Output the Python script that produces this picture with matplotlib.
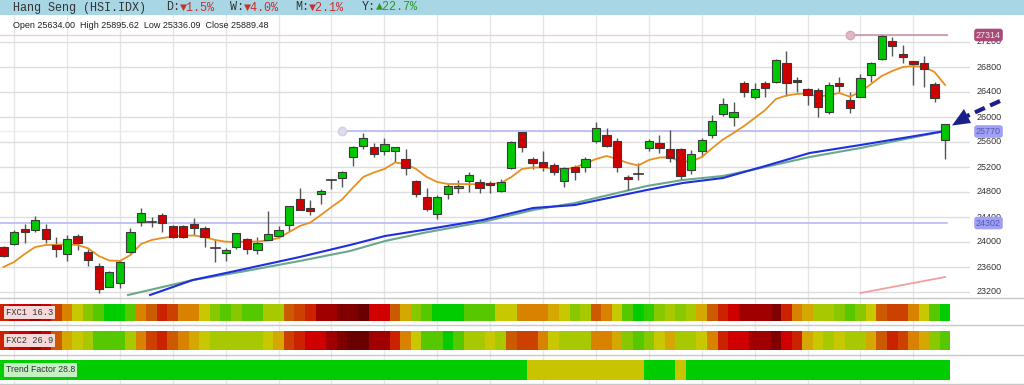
import matplotlib
matplotlib.use("Agg")
import matplotlib.pyplot as plt
from matplotlib.lines import Line2D
from matplotlib.patches import Rectangle, Polygon

# ---------------- data ----------------
opens = [23925, 23968, 24213, 24192, 24213, 23952, 23803, 24096, 23845, 23616,
         23285, 23339, 23835, 24325, 24325, 24432, 24256, 24256, 24288, 24229,
         23909, 23829, 23925, 24048, 23867, 24037, 24096, 24272, 24693, 24549,
         24763, 24987, 25029, 25355, 25536, 25525, 25464, 25456, 25328, 24976,
         24725, 24443, 24763, 24859, 24981, 24965, 24939, 24821, 25179, 25755,
         25323, 25285, 25232, 24976, 25205, 25195, 25621, 25707, 25621, 25035,
         25083, 25509, 25579, 25488, 25483, 25152, 25456, 25707, 26048, 25995,
         26539, 26315, 26539, 26555, 26859, 26587, 26448, 26432, 26085, 26539,
         26272, 26325, 26672, 26928, 27221, 27003, 26901, 26869, 26528, 25634]
highs = [23941, 24192, 24288, 24421, 24288, 24085, 24112, 24123, 23888, 23659,
         23541, 23712, 24219, 24539, 24405, 24459, 24272, 24272, 24379, 24256,
         24043, 23899, 24149, 24069, 24085, 24496, 24256, 24576, 24869, 24672,
         24843, 25003, 25141, 25536, 25739, 25589, 25659, 25525, 25483, 24992,
         24859, 24752, 24939, 24992, 25125, 25003, 24976, 25003, 25621, 25755,
         25355, 25461, 25259, 25205, 25232, 25355, 25925, 25819, 25659, 25072,
         25259, 25643, 25712, 25792, 25499, 25472, 25659, 26027, 26299, 26235,
         26581, 26539, 26581, 26923, 27061, 26645, 26469, 26459, 26560, 26645,
         26405, 26683, 26875, 27314, 27275, 27152, 26901, 26976, 26565, 25896]
lows = [23755, 23947, 23989, 24165, 23989, 23765, 23701, 23872, 23621, 23179,
        23275, 23259, 23819, 24261, 24245, 24165, 24059, 24059, 24112, 23915,
        23675, 23701, 23888, 23808, 23808, 24032, 24069, 24181, 24512, 24432,
        24608, 24843, 24885, 25216, 25483, 25355, 25392, 25285, 25072, 24725,
        24496, 24368, 24683, 24789, 24805, 24789, 24779, 24805, 25163, 25445,
        25163, 25141, 25072, 24875, 24992, 25125, 25579, 25515, 25125, 24832,
        24992, 25461, 25419, 25285, 25003, 25088, 25365, 25659, 26016, 25856,
        26325, 26283, 26325, 26539, 26336, 26405, 26192, 26005, 26048, 26405,
        26069, 26315, 26565, 26912, 26976, 26869, 26512, 26475, 26245, 25336]
closes = [23781, 24165, 24155, 24352, 24043, 23893, 24048, 23979, 23712, 23248,
          23515, 23685, 24165, 24469, 24320, 24299, 24075, 24075, 24229, 24085,
          23905, 23877, 24139, 23888, 23989, 24128, 24192, 24576, 24512, 24501,
          24821, 24990, 25125, 25525, 25659, 25403, 25563, 25515, 25179, 24768,
          24523, 24725, 24896, 24896, 25072, 24869, 24912, 24965, 25605, 25525,
          25269, 25195, 25125, 25179, 25115, 25333, 25829, 25536, 25205, 25003,
          25085, 25616, 25499, 25339, 25061, 25408, 25632, 25936, 26203, 26080,
          26395, 26443, 26459, 26912, 26549, 26560, 26352, 26165, 26507, 26496,
          26139, 26619, 26859, 27296, 27141, 26965, 26843, 26763, 26299, 25889]

# short moving average (orange), one value per candle
ma_short = [23600, 23680, 23808, 23920, 23952, 23955, 23963, 23952, 23899, 23776,
            23704, 23696, 23792, 23968, 24032, 24064, 24085, 24104, 24104, 24080,
            24032, 24005, 24000, 24005, 24008, 24024, 24064, 24160, 24256, 24312,
            24432, 24560, 24680, 24864, 25040, 25112, 25168, 25272, 25248, 25168,
            25040, 24960, 24928, 24928, 24925, 24923, 24928, 24944, 25040, 25168,
            25192, 25192, 25176, 25160, 25192, 25256, 25328, 25376, 25328, 25264,
            25224, 25312, 25352, 25355, 25288, 25288, 25360, 25504, 25640, 25744,
            25856, 25984, 26112, 26288, 26344, 26368, 26376, 26325, 26352, 26384,
            26325, 26400, 26528, 26656, 26736, 26800, 26816, 26800, 26720, 26512]

# long moving averages (read at knots)
ma_blue_idx = [13.85, 17.9, 22.35, 28.0, 32.75, 36.06, 39.65, 45.3, 50.05, 54.0,
               60.8, 64.2, 68.0, 72.0, 76.2, 81.0, 89.0]
ma_blue_val = [23152, 23392, 23552, 23760, 23952, 24096, 24192, 24352, 24544, 24592,
               24832, 24944, 25024, 25216, 25424, 25552, 25775]
ma_green_idx = [11.77, 17.9, 22.35, 28.0, 32.75, 36.06, 39.65, 45.3, 50.05, 54.0,
                60.8, 64.2, 68.0, 72.0, 76.2, 81.0, 89.0]
ma_green_val = [23152, 23392, 23520, 23696, 23856, 24016, 24144, 24320, 24512, 24624,
                24896, 24992, 25056, 25200, 25360, 25504, 25776]
pink_idx = [81.0, 89.0]
pink_val = [23184, 23440]

price_ticks = [23200, 23600, 24000, 24400, 24800, 25200, 25600, 26000, 26400, 26800, 27200]
levels_hline = {"high": 27314, "mid": 25770, "low": 24302}

fxc1 = [10, 11, 11, 12, 11, 9, 7, 5, 3, 2, 0, 0, 2, 7, 8, 10, 9, 7, 7, 5,
        3, 2, 3, 2, 2, 4, 4, 8, 9, 10, 12, 12, 13, 13, 14, 11, 11, 8, 6, 3,
        2, 0, 0, 0, 2, 2, 2, 5, 5, 7, 7, 7, 6, 5, 3, 4, 8, 7, 5, 2,
        0, 1, 3, 4, 3, 4, 6, 8, 10, 11, 12, 12, 12, 13, 10, 7, 6, 4, 4, 3,
        2, 3, 5, 8, 9, 9, 7, 5, 2, 0]
fxc2 = [10, 11, 11, 12, 11, 8, 6, 5, 4, 2, 2, 2, 4, 7, 9, 10, 8, 7, 6, 5,
        4, 4, 4, 4, 4, 5, 6, 9, 10, 11, 11, 12, 13, 14, 14, 12, 12, 10, 7, 5,
        2, 2, 0, 2, 4, 4, 5, 4, 8, 9, 9, 7, 5, 4, 4, 4, 7, 7, 6, 3,
        2, 3, 5, 6, 4, 4, 5, 7, 10, 11, 11, 12, 12, 13, 11, 10, 6, 5, 4, 5,
        4, 4, 6, 8, 10, 9, 7, 6, 3, 2]
trend = [0] * 50 + [1] * 11 + [0] * 3 + [1] + [0] * 25

palette = ['#00cc00', '#2ecc00', '#55c800', '#88c800', '#a8c800', '#c8c800', '#d4a800',
           '#d98200', '#cc5a00', '#cc4000', '#cc2200', '#d00000', '#a00000', '#800000', '#6a0000']
trend_colors = ['#00cc00', '#c8c400']

# ---------------- layout helpers ----------------
W, H = 1024, 385
fig = plt.figure(figsize=(W / 100, H / 100), dpi=100)
fig.patch.set_facecolor('white')


def fx(px):
    return px / W


def fy(py):
    return 1 - py / H


X0 = -3.5 / 10.58
X1 = (970 - 3.5) / 10.58
n = len(closes)
idx = list(range(n))

# title bar
fig.patches.append(Rectangle((0, fy(14.5)), 1, 14.5 / H, transform=fig.transFigure,
                             facecolor='#a9d6e5', edgecolor='none', zorder=0))
mono = ['Liberation Mono', 'DejaVu Sans Mono']
ty = fy(7.5)
fig.text(fx(13), ty, 'Hang Seng (HSI.IDX)', family=mono, size=8.5, color='#333333', va='center')
parts = [(166, 'D:', '▼1.5%', '#c83030'), (230, 'W:', '▼4.0%', '#c83030'),
         (295, 'M:', '▼2.1%', '#c83030'), (362, 'Y:', '▲22.7%', '#2a9a2a')]
for px, lab, val, col in parts:
    fig.text(fx(px), ty, lab, family=mono, size=8.5, color='#333333', va='center')
    fig.text(fx(px + 14.2), ty, val, family=mono, size=8.5, color=col, va='center')

fig.text(fx(13), fy(25), 'Open 25634.00  High 25895.62  Low 25336.09  Close 25889.48',
         family='Liberation Sans', size=6.45, color='#222222', va='center')

# ---------------- main price axes ----------------
ax = fig.add_axes([0, fy(297), fx(970), (297 - 15) / H])
ax.set_xlim(X0, X1)
ax.set_ylim(27872 - 16 * 297, 27872 - 16 * 15)
ax.set_facecolor('none')
for s in ax.spines.values():
    s.set_visible(False)
ax.set_xticks([])
ax.set_yticks([])
for g in range(1, 90, 5):
    ax.axvline(g, color='#e6e6e6', lw=1, zorder=0)
for p in price_ticks:
    ax.axhline(p, color='#dedede', lw=1, zorder=0)
    fig.text(fx(977), fy(42 + (27200 - p) / 16), str(p),
             family='Liberation Sans', size=6.5, color='#333333', va='center', ha='left')

# horizontal level lines
ax.plot([X0, 89.2], [levels_hline['high']] * 2, color='#f0d0d8', lw=1, zorder=1)
ax.plot([80.0, 89.2], [levels_hline['high']] * 2, color='#c898aa', lw=1.2, zorder=2)
ax.plot([80.0], [levels_hline['high']], 'o', ms=6, color='#e0b8c8', mec='#d0a8b8', zorder=3)
ax.plot([X0, 89.2], [levels_hline['mid']] * 2, color='#ececf4', lw=1, zorder=1)
ax.plot([32.0, 89.2], [levels_hline['mid']] * 2, color='#b8b8f4', lw=1.2, zorder=2)
ax.plot([32.0], [levels_hline['mid']], 'o', ms=6, color='#dcdcec', mec='#d0d0e0', zorder=3)
ax.plot([X0, 89.2], [levels_hline['low']] * 2, color='#b8b8f4', lw=1.2, zorder=2)

# moving averages
ax.plot(ma_green_idx, ma_green_val, color='#6aa88a', lw=1.5, zorder=4)
ax.plot(ma_blue_idx, ma_blue_val, color='#1f2fe0', lw=1.5, zorder=4)
ax.plot(pink_idx, pink_val, color='#f0a0a0', lw=1.3, zorder=4)
ax.plot(idx, ma_short, color='#e8901e', lw=1.3, zorder=6)

# candles
for i in idx:
    o, h, l, c = opens[i], highs[i], lows[i], closes[i]
    ax.plot([i, i], [l, h], color='#555555', lw=1, zorder=5, solid_capstyle='butt')
    if abs(c - o) < 12:
        ax.plot([i - 0.42, i + 0.42], [o, o], color='#333333', lw=1.2, zorder=7)
    else:
        col = '#00c800' if c > o else '#d00000'
        ax.bar(i, abs(c - o), bottom=min(o, c), width=0.78, color=col,
               edgecolor='#3a3a3a', linewidth=0.8, zorder=7)

# right-side level labels
fig.text(fx(976), fy(35), '27314', family='Liberation Sans', size=6.5, color='#f4e4ec',
         va='center', ha='left',
         bbox=dict(boxstyle='round,pad=0.2,rounding_size=0.3', fc='#a84a78', ec='none'))
fig.text(fx(976), fy(131.5), '25770', family='Liberation Sans', size=6.5, color='#5a5aa8',
         va='center', ha='left',
         bbox=dict(boxstyle='round,pad=0.2,rounding_size=0.3', fc='#a0a0f8', ec='none'))
fig.text(fx(976), fy(223), '24302', family='Liberation Sans', size=6.5, color='#5a5aa8',
         va='center', ha='left',
         bbox=dict(boxstyle='round,pad=0.2,rounding_size=0.3', fc='#a0a0f8', ec='none'))

# arrow
navy = '#1c1f8a'
fig.lines.append(Line2D([fx(1000), fx(967)], [fy(101), fy(116)], transform=fig.transFigure,
                        color=navy, lw=3, linestyle=(0, (2.6, 1.4))))
fig.patches.append(Polygon([[fx(952), fy(125.5)], [fx(964), fy(109)], [fx(971), fy(123)]],
                           closed=True, transform=fig.transFigure, facecolor=navy,
                           edgecolor='none'))

# ---------------- indicator strips ----------------
bg = fig.add_axes([0, fy(385), fx(970), (385 - 297) / H])
bg.set_xlim(X0, X1)
bg.set_ylim(0, 1)
bg.axis('off')
for g in range(1, 90, 5):
    bg.axvline(g, color='#e8e8e8', lw=1)
for yy in [298, 325, 355, 384]:
    fig.lines.append(Line2D([0, 1], [fy(yy), fy(yy)], transform=fig.transFigure,
                            color='#c8c8c8', lw=1))


def strip(top, bottom, values, colors):
    a = fig.add_axes([0, fy(bottom), fx(970), (bottom - top) / H])
    a.set_xlim(X0, X1)
    a.set_ylim(0, 1)
    a.axis('off')
    a.bar(idx, [1] * n, width=1.0, bottom=0, color=[colors[v] for v in values],
          edgecolor='none', linewidth=0)
    return a


strip(304, 321, fxc1, palette)
strip(331, 350, fxc2, palette)
strip(360, 379.5, trend, trend_colors)

fig.text(fx(6), fy(312.5), 'FXC1 16.3', family=mono, size=6.3, color='#333333', va='center',
         bbox=dict(boxstyle='square,pad=0.25', fc='#f6dada', ec='none'))
fig.text(fx(6), fy(340.5), 'FXC2 26.9', family=mono, size=6.3, color='#333333', va='center',
         bbox=dict(boxstyle='square,pad=0.25', fc='#f6dada', ec='none'))
fig.text(fx(6), fy(370), 'Trend Factor 28.8', family='Liberation Sans', size=6.3,
         color='#333333', va='center',
         bbox=dict(boxstyle='square,pad=0.25', fc='#c4f0c4', ec='none'))

fig.savefig('out.png', dpi=100)
